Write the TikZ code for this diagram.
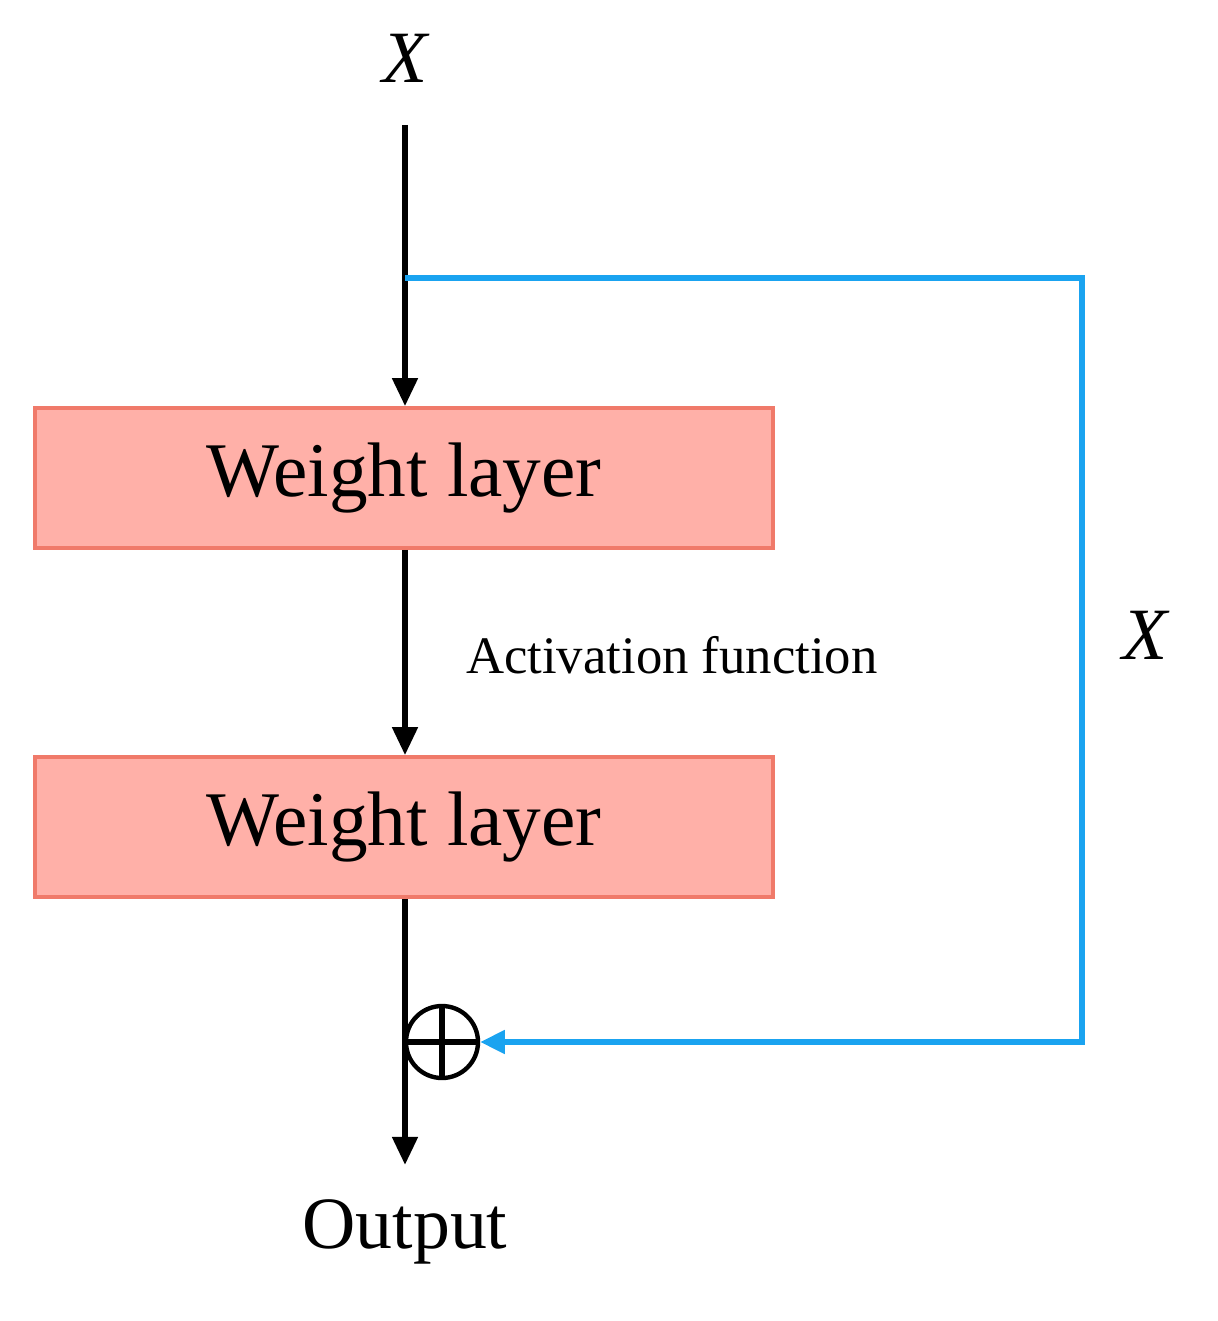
\documentclass[tikz,border=0pt]{standalone}
\usepackage{fontspec}
\setmainfont{Liberation Serif}
\usetikzlibrary{arrows.meta}
\definecolor{boxfill}{HTML}{FFB0A8}
\definecolor{boxline}{HTML}{F07A6A}
\definecolor{skipblue}{HTML}{1AA3F0}
\begin{document}
\begin{tikzpicture}[x=0.02cm,y=-0.02cm,
  layerbox/.style={draw=boxline,line width=2pt,fill=boxfill,minimum width=738*0.02cm,minimum height=140*0.02cm,inner sep=0pt,font=\fontsize{44}{50}\selectfont},
  mainarrow/.style={line width=3.4pt,-{Triangle[length=16pt,width=14pt]}},
  skip/.style={draw=skipblue,line width=3pt}]
\useasboundingbox (0,0) rectangle (1217,1321);
\node (xin) at (405,58) {\fontsize{42}{48}\selectfont\itshape X};
\coordinate (top) at (405,125);
\node[layerbox] (w1) at (404,478) {Weight layer};
\node[layerbox] (w2) at (404,827) {Weight layer};
\node[anchor=west,font=\fontsize{30}{36}\selectfont] (act) at (460,655) {Activation function};
\node[draw,circle,line width=2.5pt,minimum size=72*0.02cm,inner sep=0pt] (plus) at (442,1042) {};
\draw[line width=3.5pt] (plus.north) -- (plus.south) (plus.west) -- (plus.east);
\coordinate (outend) at (405,1165);
\node (out) at (405,1232) {\fontsize{42}{48}\selectfont Output};
\node (xr) at (1145,635) {\fontsize{42}{48}\selectfont\itshape X};
\coordinate (br) at (405,278);
\coordinate (c1) at (1082,278);
\coordinate (c2) at (1082,1042);
\draw[mainarrow] (top) -- (w1.north -| top);
\draw[mainarrow] (w1.south -| top) -- (w2.north -| top);
\draw[mainarrow] (w2.south -| top) -- (outend);
\draw[skip,-{Triangle[length=14pt,width=13pt]}] (br) -- (c1) -- (c2) -- (plus.east);
\end{tikzpicture}
\end{document}
